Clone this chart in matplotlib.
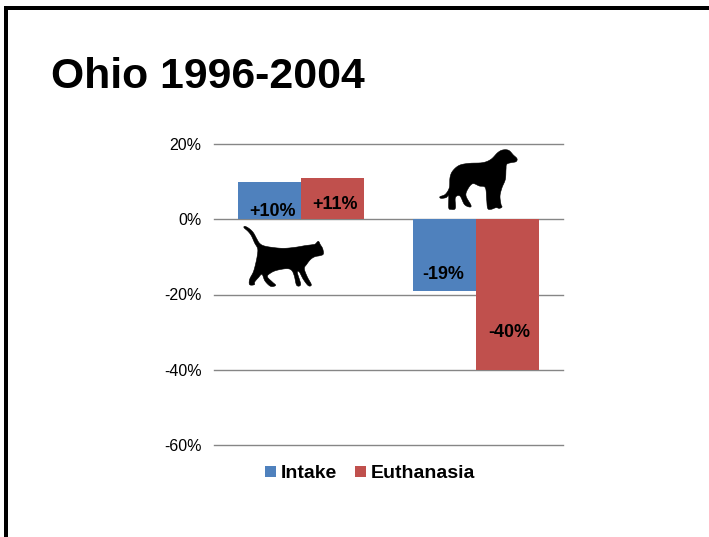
import matplotlib
matplotlib.use("Agg")
import matplotlib.pyplot as plt
from matplotlib.patches import Polygon, Rectangle
import numpy as np

plt.rcParams['font.family'] = ['Liberation Sans', 'DejaVu Sans']

W, H = 709, 537

groups = ["Cats", "Dogs"]
intake = [10, -19]
euthanasia = [11, -40]
intake_labels = ["+10%", "-19%"]
euthanasia_labels = ["+11%", "-40%"]
yticks = [20, 0, -20, -40, -60]

BLUE = "#4f81bd"
RED = "#c0504d"
GRID = "#868686"

# silhouettes, in pixels of a 3x crop
cat_outline = [(15, 13), (28, 20), (40, 32), (50, 50), (58, 63), (70, 71), (95, 76), (130, 79), (165, 76),
               (195, 71), (218, 68), (226, 66), (235, 58), (241, 68), (248, 80), (250, 96), (240, 101), (225, 104),
               (212, 112), (200, 127), (193, 140), (202, 165), (214, 188), (205, 191), (190, 172), (178, 150),
               (172, 152), (182, 187), (170, 190), (163, 162), (155, 145), (140, 140), (110, 145), (92, 153),
               (82, 164), (97, 180), (107, 190), (92, 193), (75, 177), (66, 157), (55, 167), (44, 180), (43, 188),
               (29, 188), (29, 172), (40, 150), (47, 125), (52, 100), (53, 80), (44, 63), (34, 41), (24, 28),
               (12, 17)]
dog_outline = [(243, 38), (240, 47), (225, 50), (212, 55), (210, 70), (208, 100), (198, 125), (192, 150),
               (195, 175), (198, 183), (190, 187), (180, 185), (165, 190), (155, 187), (152, 160), (148, 125),
               (130, 120), (110, 113), (95, 130), (90, 150), (105, 178), (100, 183), (85, 175), (72, 150),
               (58, 155), (58, 187), (45, 190), (38, 185), (38, 150), (30, 155), (15, 157), (12, 152), (28, 145),
               (40, 125), (42, 95), (50, 75), (70, 58), (100, 52), (140, 50), (165, 40), (185, 20), (200, 12),
               (218, 13), (232, 27)]


def px(x, y):
    return x / W, 1 - y / H


def smooth_closed(outline, steps=6):
    # closed Catmull-Rom through the traced points
    p = np.array(outline, dtype=float)
    out = []
    for i in range(len(p)):
        p0, p1, p2, p3 = p[i - 1], p[i], p[(i + 1) % len(p)], p[(i + 2) % len(p)]
        for t in np.linspace(0, 1, steps, endpoint=False):
            out.append(0.5 * (2 * p1 + (p2 - p0) * t + (2 * p0 - 5 * p1 + 4 * p2 - p3) * t ** 2
                              + (3 * p1 - p0 - 3 * p2 + p3) * t ** 3))
    return out


def add_silhouette(fig, outline, left, top):
    pts = [px(left + x / 3, top + y / 3) for x, y in smooth_closed(outline)]
    fig.add_artist(Polygon(pts, closed=True, transform=fig.transFigure, fc="black", ec="black", lw=0.4, zorder=5))


fig = plt.figure(figsize=(W / 100, H / 100), dpi=100)

# slide frame on top and left
fig.add_artist(Rectangle(px(4, 10), 705 / W, 4 / H, transform=fig.transFigure, fc="black", ec="none"))
fig.add_artist(Rectangle(px(4, 537), 4 / W, 531 / H, transform=fig.transFigure, fc="black", ec="none"))

fig.text(51 / W, 1 - 77 / H, "Ohio 1996-2004", fontsize=30.8, fontweight="bold", va="center", ha="left")

ax = fig.add_axes([214 / W, 1 - 445 / H, 349 / W, 301 / H])
x = np.arange(len(groups))
width = 0.36
b1 = ax.bar(x - width / 2, intake, width, color=BLUE, label="Intake", zorder=2)
b2 = ax.bar(x + width / 2, euthanasia, width, color=RED, label="Euthanasia", zorder=2)

ax.set_xlim(-0.5, 1.5)
ax.set_ylim(-60, 20)
ax.set_yticks(yticks)
ax.set_yticklabels([f"{t}%" for t in yticks], fontsize=11.5)
ax.set_xticks([])
ax.grid(axis="y", color=GRID, lw=1, zorder=1, clip_on=False)
ax.set_axisbelow(True)
ax.tick_params(axis="y", length=0, pad=9)
for s in ax.spines.values():
    s.set_visible(False)

label_y = [[2.0, -14.7], [3.9, -30.1]]
label_dx = [[2.2, -0.7], [1.8, 1.8]]
for i in range(len(groups)):
    ax.annotate(intake_labels[i], (x[i] - width / 2, label_y[0][i]), xytext=(label_dx[0][i], 0),
                textcoords="offset points", ha="center", va="center", fontsize=12.9, fontweight="bold", zorder=3)
    ax.annotate(euthanasia_labels[i], (x[i] + width / 2, label_y[1][i]), xytext=(label_dx[1][i], 0),
                textcoords="offset points", ha="center", va="center", fontsize=12.9, fontweight="bold", zorder=3)

ax.legend(handles=[b1, b2], ncol=2, frameon=False, loc="center", bbox_to_anchor=(0.447, -0.096),
          prop={"size": 14, "weight": "bold"}, handlelength=0.57, handleheight=0.52,
          handletextpad=0.26, columnspacing=0.93)

add_silhouette(fig, cat_outline, 240, 222)
add_silhouette(fig, dog_outline, 436, 146)

fig.savefig("out.png", dpi=100)
